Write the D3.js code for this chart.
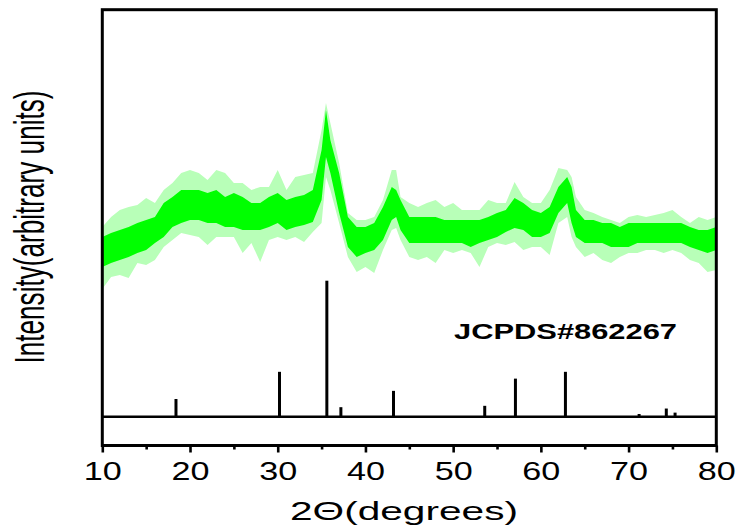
<!DOCTYPE html>
<html>
<head>
<meta charset="utf-8">
<script src="https://cdn.jsdelivr.net/npm/d3@7"></script>
<style>
  html, body { margin: 0; padding: 0; background: #ffffff; }
  svg { display: block; font-family: Arial, "Liberation Sans", sans-serif; }
</style>
</head>
<body>
<svg id="chart" width="738" height="531"></svg>
<script>
// ---- data ----
const twoTheta  = [10,11,12,13,14,15,16,17,18,19,20,21,22,23,24,25,26,27,28,29,30,31,32,33,34,35,35.5,36,37,38,39,40,41,42,43,43.5,44,45,46,47,48,49,50,51,52,53,54,55,56,57,58,59,60,61,62,63,63.5,64,65,66,67,68,69,70,71,72,73,74,75,76,77,78,79,80];
const coreHigh  = [208,212,215,218,222,225,228,242,248,255,255,255,252,255,248,252,248,242,242,248,252,245,248,250,255,295,335,305,272,228,218,218,222,238,258,255,245,228,228,228,228,225,225,225,225,225,228,232,235,247,242,235,232,238,258,268,258,235,225,225,222,222,218,222,222,222,222,222,222,222,218,215,215,218];
const coreLow   = [178,182,185,188,192,195,202,208,218,222,225,225,222,222,218,218,215,215,215,218,222,215,218,220,223,245,288,272,232,198,188,192,195,205,225,228,215,202,202,202,202,202,202,202,198,202,205,208,213,217,215,208,208,212,232,242,222,208,202,202,202,198,198,198,202,202,202,202,202,202,198,195,192,195];
const spikeHigh = [218,228,235,238,240,247,242,255,262,272,275,272,265,275,272,262,262,255,258,258,275,255,268,270,272,315,342,322,282,232,225,225,228,245,275,275,248,242,238,242,245,238,242,235,235,235,245,242,242,263,248,242,242,255,277,275,268,248,235,232,228,225,222,228,230,228,230,232,235,228,222,228,225,228];
const spikeLow  = [156,168,170,167,182,180,185,198,205,212,210,208,200,208,208,208,192,202,183,205,208,205,208,203,213,222,268,255,222,188,173,178,172,195,215,217,205,188,185,188,182,195,192,195,192,178,198,202,200,203,195,198,198,190,222,228,208,198,188,192,185,182,188,192,192,195,195,192,195,192,185,182,173,175];

const refPos = [18.4, 30.2, 35.6, 37.2, 43.2, 53.6, 57.1, 62.8, 71.2, 74.3, 75.3];
const refInt = [13, 33, 100, 7, 19, 8, 28, 33, 2, 6, 3];

const majorTicks = [10, 20, 30, 40, 50, 60, 70, 80];
const minorTicks = [15, 25, 35, 45, 55, 65, 75];
const refLabel = "JCPDS#862267";
const xTitle = "2\u0398(degrees)";
const yTitle = "Intensity(arbitrary units)";

// ---- layout ----
const L = 102.3, R = 716.3, T = 9.7, B = 445.5;
const svg = d3.select("#chart");

const x = d3.scaleLinear().domain([10, 80]).range([L, R]);
const y = d3.scaleLinear().domain([0, 435]).range([445, 10]);
const yRef = d3.scaleLinear().domain([0, 100]).range([416.7, 280.7]);

svg.append("defs").append("clipPath").attr("id", "plotclip")
  .append("rect").attr("x", L).attr("y", T).attr("width", R - L).attr("height", B - T);

const pts = twoTheta.map((t, i) => ({t, ch: coreHigh[i], cl: coreLow[i], sh: spikeHigh[i], sl: spikeLow[i]}));

const g = svg.append("g").attr("clip-path", "url(#plotclip)");

// outer (spiky) envelope
g.append("path").datum(pts)
  .attr("fill", "#b8ffb8")
  .attr("d", d3.area().x(d => x(d.t)).y0(d => y(d.sl)).y1(d => y(d.sh)));
// dense core
g.append("path").datum(pts)
  .attr("fill", "#00ff00")
  .attr("d", d3.area().x(d => x(d.t)).y0(d => y(d.cl)).y1(d => y(d.ch)));

// reference sticks
svg.append("g").selectAll("line").data(refPos).join("line")
  .attr("x1", d => x(d)).attr("x2", d => x(d))
  .attr("y1", yRef(0)).attr("y2", (d, i) => yRef(refInt[i]))
  .attr("stroke", "#000").attr("stroke-width", 3);

// stick baseline
svg.append("line")
  .attr("x1", L).attr("x2", R).attr("y1", yRef(0)).attr("y2", yRef(0))
  .attr("stroke", "#000").attr("stroke-width", 2.6);

// frame
svg.append("rect")
  .attr("x", L).attr("y", T).attr("width", R - L).attr("height", B - T)
  .attr("fill", "none").attr("stroke", "#000").attr("stroke-width", 3);

// bottom axis
const ax = svg.append("g").attr("transform", `translate(0,${B})`)
  .call(d3.axisBottom(x).tickValues(majorTicks).tickSize(7).tickFormat(d3.format("d")));
ax.select(".domain").remove();
ax.selectAll(".tick line").attr("stroke", "#000").attr("stroke-width", 2.6);
ax.selectAll(".tick text")
  .attr("y", 34.5).attr("dy", null)
  .attr("font-size", 25)
  .attr("font-family", "Arial, 'Liberation Sans', sans-serif")
  .attr("fill", "#000")
  .attr("textLength", 38).attr("lengthAdjust", "spacingAndGlyphs");

const axm = svg.append("g").attr("transform", `translate(0,${B})`)
  .call(d3.axisBottom(x).tickValues(minorTicks).tickSize(4).tickFormat(""));
axm.select(".domain").remove();
axm.selectAll(".tick line").attr("stroke", "#000").attr("stroke-width", 2.6);

// reference label
svg.append("text")
  .attr("x", 454).attr("y", 339)
  .attr("font-size", 22).attr("font-weight", "bold")
  .attr("textLength", 223).attr("lengthAdjust", "spacingAndGlyphs")
  .attr("fill", "#000")
  .text(refLabel);

// x title
svg.append("text")
  .attr("x", 290).attr("y", 520)
  .attr("font-size", 25)
  .attr("textLength", 228).attr("lengthAdjust", "spacingAndGlyphs")
  .attr("fill", "#000")
  .text(xTitle);

// y title
svg.append("text")
  .attr("transform", "translate(44,227) scale(1.6,1) rotate(-90)")
  .attr("text-anchor", "middle")
  .attr("font-size", 26)
  .attr("textLength", 273).attr("lengthAdjust", "spacingAndGlyphs")
  .attr("fill", "#000")
  .text(yTitle);
</script>
</body>
</html>
